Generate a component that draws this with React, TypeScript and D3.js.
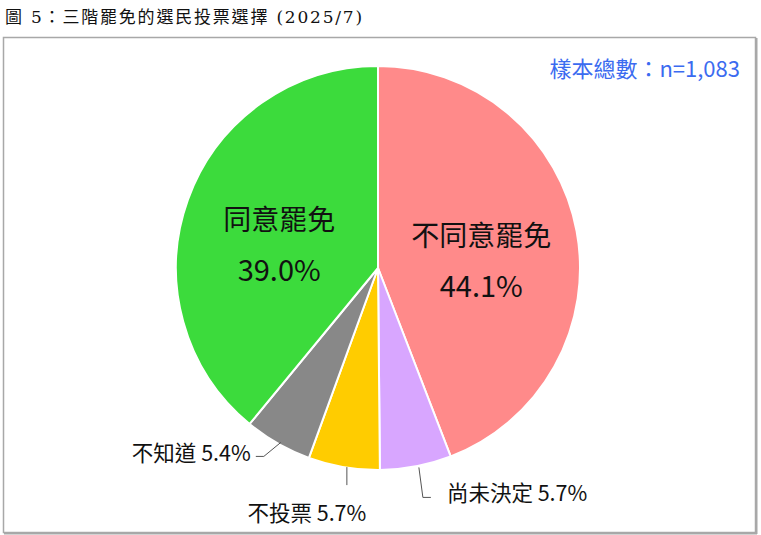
import React from 'react';
import * as d3 from 'd3';

const categories = ['不同意罷免', '尚未決定', '不投票', '不知道', '同意罷免'];
const shares = [44.1, 5.7, 5.7, 5.4, 39.0];
const colors = ['#FF8A8A', '#D8A6FF', '#FFCC00', '#888888', '#3CDB3C'];
const titleText = '圖 5：三階罷免的選民投票選擇 (2025/7)';
const sampleText = '樣本總數：n=1,083';

const W = 761;
const H = 535;
const cx = 378;
const cy = 268;
const R = 202;

const sans = '"Noto Sans CJK TC", "Noto Sans", sans-serif';

export default function App() {
  const pie = d3.pie<number>().sort(null).value(d => d);
  const arcs = pie(shares);
  const arc = d3.arc<d3.PieArcDatum<number>>().innerRadius(0).outerRadius(R);
  const edge = d3.arc<d3.PieArcDatum<number>>().innerRadius(R).outerRadius(R);
  const inner = d3.arc<d3.PieArcDatum<number>>().innerRadius(105).outerRadius(105);

  const fmt = (v: number) => v.toFixed(1) + '%';

  // big labels inside the two main slices
  const bigLabels = [0, 4].map(i => {
    const [x, y] = inner.centroid(arcs[i]);
    return { i, x: x, y: y + 12 };
  });

  // small outside labels with leader lines
  const smallLabels = [1, 2, 3].map(i => {
    const [ex, ey] = edge.centroid(arcs[i]);
    let pts: [number, number][] = [];
    let tx = 0, ty = 0, anchor = 'start';
    if (i === 1) {
      pts = [[ex + 3, ey + 1], [ex + 7, ey + 31], [ex + 15, ey + 31]];
      tx = ex + 31; ty = ey + 25; anchor = 'start';
    } else if (i === 2) {
      pts = [[ex + 3, ey], [ex + 3, ey + 18]];
      tx = ex - 37; ty = ey + 44; anchor = 'middle';
    } else {
      pts = [[ex + 3, ey - 1], [ex - 14, ey + 13], [ex - 22, ey + 13]];
      tx = ex - 27; ty = ey + 8; anchor = 'end';
    }
    return { i, pts, tx, ty, anchor };
  });

  return (
    <svg width={W} height={H} style={{ position: 'absolute', left: 0, top: 0, background: '#fff' }}>
      <text x={5} y={23} fontSize={17} letterSpacing={1.8}
        fontFamily='"DejaVu Serif", "Liberation Serif", "Noto Sans CJK TC", serif' fill="#111">
        {titleText}
      </text>
      <rect x={3.5} y={37.5} width={752} height={495} fill="#fff" stroke="#A8A8A8" strokeWidth={1.5} />
      <line x1={756.5} y1={38} x2={756.5} y2={534} stroke="#A8A8A8" strokeWidth={2} />
      <line x1={4} y1={533.5} x2={757} y2={533.5} stroke="#A8A8A8" strokeWidth={2} />

      <text x={740} y={77} textAnchor="end" fontSize={22} fontFamily={sans} fill="#3B6BF0">
        {sampleText}
      </text>

      <g transform={`translate(${cx},${cy})`}>
        {arcs.map((a, i) => (
          <path key={i} d={arc(a) || ''} fill={colors[i]} stroke="#fff" strokeWidth={2} strokeLinejoin="round" />
        ))}
        {bigLabels.map(l => (
          <g key={l.i} fontFamily={sans} fontSize={28} fill="#111" textAnchor="middle">
            <text x={l.x} y={l.y - 27} dominantBaseline="central">{categories[l.i]}</text>
            <text x={l.x} y={l.y + 23} fontSize={29} dominantBaseline="central">{fmt(shares[l.i])}</text>
          </g>
        ))}
        {smallLabels.map(l => (
          <g key={l.i}>
            <polyline points={l.pts.map(p => p.join(',')).join(' ')} fill="none" stroke="#555" strokeWidth={1} />
            <text x={l.tx} y={l.ty} textAnchor={l.anchor as any} dominantBaseline="central"
              fontFamily={sans} fontSize={21.5} fill="#111">
              {categories[l.i] + ' ' + fmt(shares[l.i])}
            </text>
          </g>
        ))}
      </g>
    </svg>
  );
}
